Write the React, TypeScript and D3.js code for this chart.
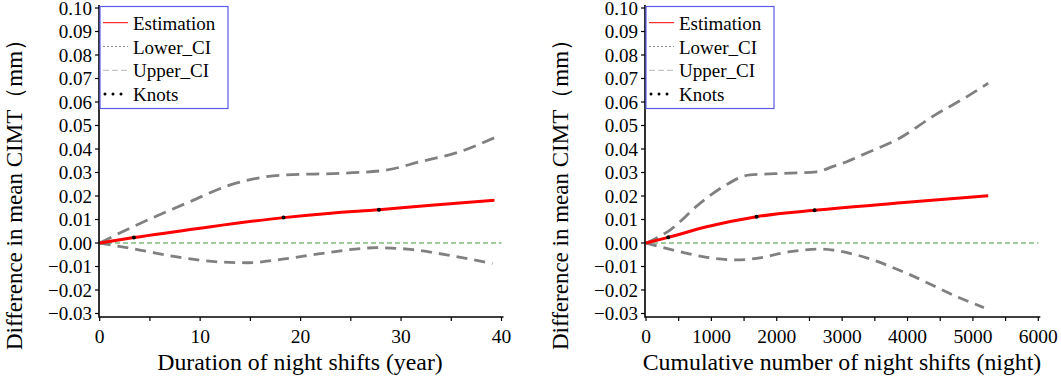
import * as d3 from 'd3';
import { useEffect, useRef } from 'react';

type Pt = [number, number];

// left panel: duration of night shifts (year)
const durEstimate: Pt[] = [[0, 0], [3.4, 0.0023], [10, 0.0063], [18.3, 0.0108], [23, 0.0127], [27.8, 0.0142], [33, 0.0161], [39.3, 0.0182]];
const durUpper: Pt[] = [[0, 0], [3.3, 0.0069], [9, 0.0176], [13, 0.0247], [18.2, 0.0289], [24.2, 0.0297], [28.5, 0.031], [31.9, 0.0346], [35.9, 0.0389], [39.3, 0.0448]];
const durLower: Pt[] = [[0, 0], [4, -0.003], [8, -0.0061], [11.7, -0.008], [14.7, -0.0084], [18.2, -0.0069], [22.2, -0.0044], [27.6, -0.002], [30.9, -0.0027], [35.5, -0.0058], [39.1, -0.0087]];
const durKnots: Pt[] = [[3.4, 0.0023], [18.3, 0.0108], [27.8, 0.0142]];
const durTicks = [0, 10, 20, 30, 40];

// right panel: cumulative number of night shifts (night)
const cumEstimate: Pt[] = [[0, 0], [341, 0.0024], [928, 0.0069], [1691, 0.0112], [2579, 0.0139], [3900, 0.0171], [5234, 0.0201]];
const cumUpper: Pt[] = [[0, 0], [367, 0.0055], [826, 0.0169], [1182, 0.024], [1590, 0.029], [2202, 0.0297], [2610, 0.0303], [2864, 0.0326], [3069, 0.0346], [3375, 0.0383], [3884, 0.0447], [4393, 0.054], [4904, 0.0622], [5234, 0.068]];
const cumLower: Pt[] = [[0, 0], [417, -0.003], [928, -0.0061], [1387, -0.0072], [1693, -0.0065], [2202, -0.0037], [2661, -0.0026], [3222, -0.0051], [3987, -0.0129], [4751, -0.0228], [5168, -0.0275]];
const cumKnots: Pt[] = [[341, 0.0024], [1691, 0.0112], [2579, 0.0139]];
const cumTicks = [0, 1000, 2000, 3000, 4000, 5000, 6000];

const yTicks = [0.1, 0.09, 0.08, 0.07, 0.06, 0.05, 0.04, 0.03, 0.02, 0.01, 0, -0.01, -0.02, -0.03];
const legendNames = ['Estimation', 'Lower_CI', 'Upper_CI', 'Knots'];

const FONT = 'Liberation Serif';

interface PanelSpec {
    dx: number;
    xDomain: [number, number];
    xRange: [number, number];
    minorStep: number;
    ticks: number[];
    estimate: Pt[];
    upper: Pt[];
    lower: Pt[];
    knots: Pt[];
    xTitle: string;
    xTitleX: number;
}

const panels: PanelSpec[] = [
    {
        dx: 0, xDomain: [0, 40], xRange: [99.7, 501.5], minorStep: 5, ticks: durTicks,
        estimate: durEstimate, upper: durUpper, lower: durLower, knots: durKnots,
        xTitle: 'Duration of night shifts (year)', xTitleX: 300,
    },
    {
        dx: 546, xDomain: [0, 6000], xRange: [646, 1038.3], minorStep: 500, ticks: cumTicks,
        estimate: cumEstimate, upper: cumUpper, lower: cumLower, knots: cumKnots,
        xTitle: 'Cumulative number of night shifts (night)', xTitleX: 842,
    },
];

export default function App() {
    const svgRef = useRef<SVGSVGElement>(null);

    useEffect(() => {
        const svg = d3.select(svgRef.current);
        svg.selectAll('*').remove();
        svg.append('rect').attr('width', 1061).attr('height', 387).attr('fill', 'white');

        const yScale = d3.scaleLinear().domain([-0.03, 0.1]).range([313.5, 8]);
        const axisBottom = 317;

        panels.forEach((p) => {
            const g = svg.append('g').attr('font-family', FONT);
            const xScale = d3.scaleLinear().domain(p.xDomain).range(p.xRange);
            const axisLeftX = 99 + p.dx;
            const line = d3.line<Pt>()
                .x((d) => xScale(d[0]))
                .y((d) => yScale(d[1]))
                .curve(d3.curveMonotoneX);

            // zero reference
            g.append('line')
                .attr('x1', axisLeftX).attr('x2', p.xRange[1])
                .attr('y1', yScale(0)).attr('y2', yScale(0))
                .attr('stroke', '#3f9a3f').attr('stroke-width', 1.1)
                .attr('stroke-dasharray', '5,3');

            g.append('path').datum(p.upper).attr('d', line)
                .attr('fill', 'none').attr('stroke', '#808080').attr('stroke-width', 2.8)
                .attr('stroke-dasharray', '13,7');
            g.append('path').datum(p.lower).attr('d', line)
                .attr('fill', 'none').attr('stroke', '#808080').attr('stroke-width', 2.8)
                .attr('stroke-dasharray', '11,7');
            g.append('path').datum(p.estimate).attr('d', line)
                .attr('fill', 'none').attr('stroke', '#ff0000').attr('stroke-width', 3);

            g.selectAll('.knot').data(p.knots).enter().append('circle')
                .attr('cx', (d) => xScale(d[0])).attr('cy', (d) => yScale(d[1]))
                .attr('r', 2).attr('fill', 'black');

            // axes
            g.append('path')
                .attr('d', `M${axisLeftX},5V${axisBottom}H${p.xRange[1] + 2}`)
                .attr('fill', 'none').attr('stroke', 'black').attr('stroke-width', 1.6);

            yTicks.forEach((t) => {
                const y = yScale(t);
                g.append('line').attr('x1', axisLeftX - 4).attr('x2', axisLeftX)
                    .attr('y1', y).attr('y2', y).attr('stroke', 'black').attr('stroke-width', 1.2);
                g.append('text').attr('x', axisLeftX - 7).attr('y', y + 6.8)
                    .attr('text-anchor', 'end').attr('font-size', 19)
                    .text(d3.format('.2f')(t));
            });

            d3.range(p.xDomain[0], p.xDomain[1] + 1, p.minorStep).forEach((t) => {
                const x = xScale(t);
                g.append('line').attr('x1', x).attr('x2', x)
                    .attr('y1', axisBottom).attr('y2', axisBottom + 4)
                    .attr('stroke', 'black').attr('stroke-width', 1.2);
            });
            p.ticks.forEach((t) => {
                g.append('text').attr('x', xScale(t)).attr('y', 343)
                    .attr('text-anchor', 'middle').attr('font-size', 19.5)
                    .text(String(t));
            });

            g.append('text').attr('x', p.xTitleX).attr('y', 370)
                .attr('text-anchor', 'middle').attr('font-size', 23.8)
                .text(p.xTitle);

            g.append('text')
                .attr('transform', `translate(${22 + p.dx},189) rotate(-90)`)
                .attr('text-anchor', 'middle').attr('font-size', 23)
                .text('Difference in mean CIMT（mm）');

            // legend
            const lx = 100 + p.dx;
            g.append('rect').attr('x', lx).attr('y', 6.5).attr('width', 128).attr('height', 102)
                .attr('fill', 'white').attr('stroke', '#5a5ae6').attr('stroke-width', 1.2);
            legendNames.forEach((name, i) => {
                const cy = 22.7 + i * 23.8;
                if (i === 3) {
                    [105, 113, 121].forEach((cx) => {
                        g.append('circle').attr('cx', cx + p.dx).attr('cy', cy).attr('r', 1.5).attr('fill', 'black');
                    });
                } else {
                    const styles = [
                        { stroke: '#ff0000', dash: null },
                        { stroke: '#909090', dash: '2,2' },
                        { stroke: '#b8b8b8', dash: '6,3' },
                    ][i];
                    g.append('line').attr('x1', lx + 3).attr('x2', lx + 28)
                        .attr('y1', cy).attr('y2', cy)
                        .attr('stroke', styles.stroke).attr('stroke-width', 1)
                        .attr('stroke-dasharray', styles.dash);
                }
                g.append('text').attr('x', lx + 33).attr('y', cy + 7)
                    .attr('font-size', 19).text(name);
            });
        });
    }, []);

    return (
        <svg ref={svgRef} width={1061} height={387}
            style={{ position: 'absolute', left: 0, top: 0, display: 'block' }} />
    );
}
